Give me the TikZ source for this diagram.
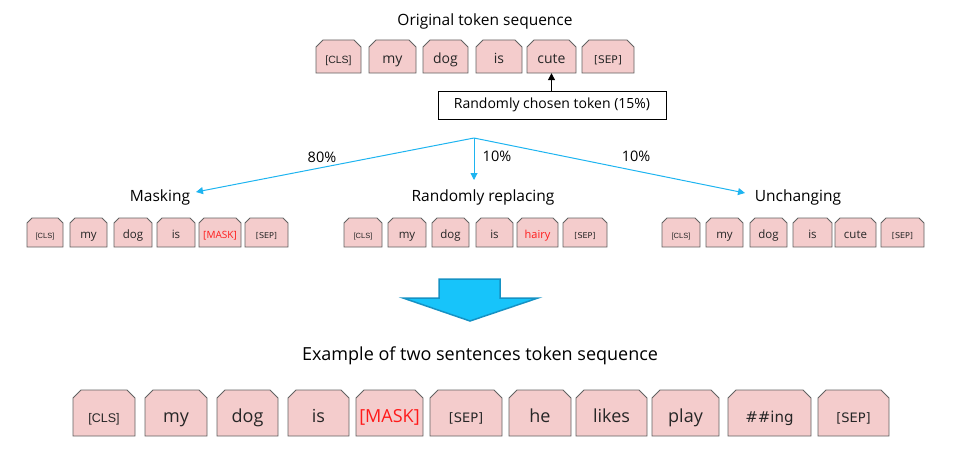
\documentclass[tikz,border=0pt]{standalone}
\usepackage{fontspec}
\setmainfont{Open Sans}
\newfontfamily\clsfont{Liberation Sans}
\newfontfamily\sepfont{DejaVu Sans}
\usetikzlibrary{arrows.meta}
\definecolor{tokfill}{HTML}{F4CCCC}
\definecolor{tokline}{HTML}{626262}
\definecolor{tokred}{HTML}{FF1A1A}
\definecolor{blueline}{HTML}{1EB4F0}
\definecolor{bigfill}{HTML}{17C4FA}
\definecolor{bigline}{HTML}{1592C4}
\newcommand\fsz[1]{\fontsize{#1}{#1}\selectfont}
\newcommand\tok[8]{%
  \draw[tokbox] (#2,#5) -- (#2,#4+#6) -- (#2+#6,#4) -- (#3-#6,#4) -- (#3,#4+#6) -- (#3,#5) -- cycle;
  \pgfmathsetmacro\tkh{0.71*(#5-#4)}%
  \pgfmathsetmacro\tkd{0.29*(#5-#4)}%
  \node[toktext, minimum width=#3pt-#2pt, text height=\tkh pt, text depth=\tkd pt, font=#7] (#1) at ({(#2+#3)/2},{(#4+#5)/2}) {#8};}
\tikzset{
  tokbox/.style={fill=tokfill, draw=tokline, line width=0.9pt, line join=miter},
  toktext/.style={inner sep=0pt, text=black!85},
  label/.style={inner sep=0pt, text=black},
  blue/.style={draw=blueline, line width=1pt, -{Triangle[length=7pt,width=7pt]}, blueline},
}
\begin{document}
\begin{tikzpicture}[x=1pt,y=-1pt]
\useasboundingbox (0,0) rectangle (968,460);
% top title
\node[label, font=\fsz{15.5}] (title1) at (485,21) {Original token sequence};
% top row
\def\ya{40}\def\yb{73}\def\c{7}
\tok{cls1}{316}{361}{\ya}{\yb}{\c}{\clsfont\fsz{10.5}}{[CLS]}
\tok{my1}{369}{416}{\ya}{\yb}{\c}{\fsz{14}}{my}
\tok{dog1}{423}{468}{\ya}{\yb}{\c}{\fsz{14}}{dog}
\tok{is1}{476}{522}{\ya}{\yb}{\c}{\fsz{14}}{is}
\tok{cute1}{527}{576}{\ya}{\yb}{\c}{\fsz{14}}{cute}
\tok{sep1}{582}{634}{\ya}{\yb}{\c}{\sepfont\fsz{10.5}}{[SEP]}
% chosen box
\node[draw=black, line width=0.9pt, fill=white, minimum width=228pt, minimum height=28pt, inner sep=0pt, font=\fsz{14}] (chosen) at (552,105) {Randomly chosen token (15\%)};
\draw[line width=1pt, -{Triangle[length=7pt,width=7pt]}] (chosen.north -| cute1.south) -- (cute1.south);
% branches
\coordinate (br) at (474,138);
\coordinate (mtip) at (196,192);
\coordinate (rtip) at (474,180);
\coordinate (utip) at (745,193);
\draw[blue] (br) -- (mtip);
\draw[blue] (br) -- (rtip);
\draw[blue] (br) -- (utip);
\node[label, font=\fsz{14.5}] (p80) at (322,157) {80\%};
\node[label, font=\fsz{14.5}] (p10a) at (497,156) {10\%};
\node[label, font=\fsz{14.5}] (p10b) at (636,156) {10\%};
\node[label, font=\fsz{15.5}, anchor=base] (masking) at (160,201) {Masking};
\node[label, font=\fsz{15.5}, anchor=base] (replacing) at (483,201) {Randomly replacing};
\node[label, font=\fsz{15.5}, anchor=base] (unchanging) at (798,201) {Unchanging};
% middle rows
\def\ya{218}\def\yb{247}\def\c{5}
\tok{clsA}{27}{63}{\ya}{\yb}{\c}{\clsfont\fsz{7.5}}{[CLS]}
\tok{myA}{70}{107}{\ya}{\yb}{\c}{\fsz{11.5}}{my}
\tok{dogA}{114}{152}{\ya}{\yb}{\c}{\fsz{11.5}}{dog}
\tok{isA}{157}{195}{\ya}{\yb}{\c}{\fsz{11.5}}{is}
\tok{maskA}{199}{241}{\ya}{\yb}{\c}{\fsz{10}}{\textcolor{tokred}{[MASK]}}
\tok{sepA}{245}{288}{\ya}{\yb}{\c}{\sepfont\fsz{8}}{[SEP]}
\tok{clsB}{344}{382}{\ya}{\yb}{\c}{\clsfont\fsz{7.5}}{[CLS]}
\tok{myB}{388}{426}{\ya}{\yb}{\c}{\fsz{11.5}}{my}
\tok{dogB}{432}{469}{\ya}{\yb}{\c}{\fsz{11.5}}{dog}
\tok{isB}{476}{513}{\ya}{\yb}{\c}{\fsz{11.5}}{is}
\tok{hairyB}{517}{558}{\ya}{\yb}{\c}{\fsz{11}}{\textcolor{tokred}{hairy}}
\tok{sepB}{563}{607}{\ya}{\yb}{\c}{\sepfont\fsz{8}}{[SEP]}
\tok{clsC}{662}{700}{\ya}{\yb}{\c}{\clsfont\fsz{7.5}}{[CLS]}
\tok{myC}{706}{743}{\ya}{\yb}{\c}{\fsz{11.5}}{my}
\tok{dogC}{750}{787}{\ya}{\yb}{\c}{\fsz{11.5}}{dog}
\tok{isC}{793}{832}{\ya}{\yb}{\c}{\fsz{11.5}}{is}
\tok{cuteC}{835}{876}{\ya}{\yb}{\c}{\fsz{11.5}}{cute}
\tok{sepC}{881}{924}{\ya}{\yb}{\c}{\sepfont\fsz{8}}{[SEP]}
% big arrow
\draw[fill=bigfill, draw=bigline, line width=1.5pt, line join=miter] (439,279) -- (500,279) -- (500,298) -- (538,298) -- (470,321) -- (403,298) -- (439,298) -- cycle;
% bottom title
\node[label, font=\fsz{18}] (title2) at (480,356) {Example of two sentences token sequence};
% bottom row
\def\ya{390}\def\yb{436}\def\c{8}
\tok{clsD}{73}{135}{\ya}{\yb}{\c}{\clsfont\fsz{12.5}}{[CLS]}
\tok{myD}{145}{207}{\ya}{\yb}{\c}{\fsz{18}}{my}
\tok{dogD}{217}{278}{\ya}{\yb}{\c}{\fsz{18}}{dog}
\tok{isD}{288}{349}{\ya}{\yb}{\c}{\fsz{18}}{is}
\tok{maskD}{356}{423}{\ya}{\yb}{\c}{\fsz{18}}{\textcolor{tokred}{[MASK]}}
\tok{sepD}{430}{502}{\ya}{\yb}{\c}{\sepfont\fsz{13}}{[SEP]}
\tok{heD}{509}{571}{\ya}{\yb}{\c}{\fsz{18}}{he}
\tok{likesD}{576}{647}{\ya}{\yb}{\c}{\fsz{18}}{likes}
\tok{playD}{652}{719}{\ya}{\yb}{\c}{\fsz{18}}{play}
\tok{ingD}{728}{811}{\ya}{\yb}{\c}{\sepfont\fsz{15}}{\#\#ing}
\tok{sepE}{818}{889}{\ya}{\yb}{\c}{\sepfont\fsz{13}}{[SEP]}
\end{tikzpicture}
\end{document}
